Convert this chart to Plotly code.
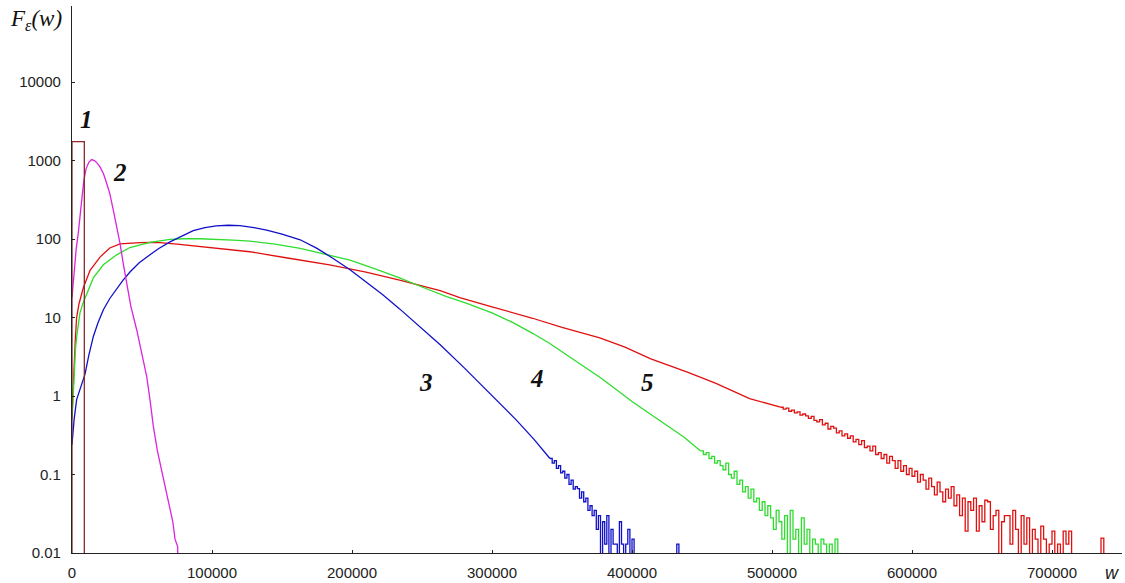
import plotly.graph_objects as go

# ---------------- data ----------------
# curve 1: uniform (rectangle) distribution
rect_w = [0, 8800]
rect_F = 1750

# curve 2 (magenta)
mag_w = [0, 1500, 3000, 4500, 5700, 7000, 8500, 10000, 12000, 14000, 16000, 18000,
         20000, 22500, 24800, 27000, 29500, 32000, 34300, 36500, 39000, 42000, 46200,
         49000, 51000, 53300, 55700, 58100, 61000, 65200, 68000, 70000, 72000, 73600, 75500, 75600]
mag_F = [18, 40, 75, 120, 180, 320, 560, 780, 950, 1030, 1000, 930,
         830, 680, 510, 380, 234, 140, 88, 50, 28, 14, 7,
         4, 2.9, 1.8, 0.9, 0.41, 0.2, 0.093, 0.055, 0.039, 0.025, 0.015, 0.012, 0]

# curve 3 (blue) - smooth body
blue_w = [0, 500, 1500, 3300, 6000, 9300, 12000, 15200, 18500, 22400, 27000, 31900,
          36500, 41400, 48000, 55700, 62000, 70000, 79500, 86600, 95000, 103000, 111700,
          120000, 130000, 139000, 150000, 163000, 175000, 186000, 198600, 210500, 222000,
          234000, 250000, 263000, 280000, 294000, 306000, 317600, 330000, 341400]
blue_F = [0.24, 0.33, 0.5, 0.9, 1.3, 1.9, 3.3, 5.7, 8.5, 12.6, 17.5, 23.5,
          30, 38, 50, 63, 76, 92, 112, 128, 140, 147, 150,
          148, 140, 130, 116, 98, 76, 57.5, 40.7, 28.2, 19.5,
          12.9, 7.2, 4.5, 2.3, 1.29, 0.79, 0.49, 0.28, 0.16]
# curve 3 (blue) - noisy histogram tail
blue_tail_w = [341400, 343000, 344500, 346000, 347500, 349000, 350500, 352000, 353500, 355000,
               356500, 358000, 359500, 361000, 362500, 364000, 365500, 367000, 368500, 370000,
               371500, 373000, 374500, 376000, 377500, 379000, 380500, 382000, 383500, 385000,
               386500, 388000, 389500, 391000, 392500, 394000, 395500, 397000, 398500, 400000,
               401500, 432000, 433500]
blue_tail_F = [0.16, 0.14, 0.15, 0.12, 0.13, 0.105, 0.11, 0.09, 0.1, 0.075,
               0.085, 0.065, 0.07, 0.066, 0.05, 0.06, 0.045, 0.05, 0.035, 0.04,
               0.03, 0.035, 0.02, 0.03, 0, 0.025, 0.013, 0.03, 0, 0.02,
               0.013, 0.013, 0, 0.025, 0.013, 0, 0.013, 0.02, 0, 0.015,
               0, 0.013, 0]

# curve 4 (green) - smooth body
green_w = [0, 700, 1500, 2500, 3500, 5700, 8000, 10500, 15200, 22400, 31900, 41400, 55700,
           70000, 80000, 91400, 103000, 115000, 127000, 145000, 163000, 180000, 198600,
           216000, 234000, 250000, 267600, 282000, 300000, 315000, 329000, 341000, 355000,
           366000, 377000, 389000, 400000, 413000, 425000, 437000, 449000]
green_F = [0.5, 1.0, 2.0, 4.0, 6.0, 11.5, 15.5, 20, 32, 47, 63, 78, 91,
           99, 101, 101, 100, 97, 94, 86, 76, 65, 54,
           42, 32, 24.5, 18.5, 15.2, 11.5, 8.6, 6.3, 4.7, 3.2,
           2.35, 1.74, 1.2, 0.85, 0.59, 0.42, 0.3, 0.2]
# curve 4 (green) - noisy histogram tail
green_tail_w = [449000, 451000, 453000, 455000, 457000, 459000, 461000, 463000, 465000, 467000,
                469000, 471000, 473000, 475000, 477000, 479000, 481000, 483000, 485000, 487000,
                489000, 491000, 493000, 495000, 497000, 499000, 501000, 503000, 505000, 507000,
                509000, 511000, 513000, 515000, 517000, 519000, 521000, 523000, 525000, 527000,
                529000, 531000, 533000, 535000, 537000, 539000, 541000, 543000, 545000, 547000]
green_tail_F = [0.2, 0.18, 0.19, 0.16, 0.17, 0.14, 0.15, 0.13, 0.115, 0.14,
                0.1, 0.09, 0.11, 0.075, 0.085, 0.06, 0.07, 0.05, 0.065, 0.045,
                0.05, 0.035, 0.045, 0.03, 0.04, 0.028, 0.02, 0.035, 0.025, 0.015,
                0.03, 0, 0.035, 0.015, 0.02, 0, 0.028, 0.013, 0.02, 0,
                0.015, 0.013, 0, 0.015, 0.013, 0, 0.013, 0, 0.015, 0]

# curve 5 (red) - smooth body
red_w = [0, 700, 1500, 2300, 3300, 5000, 8100, 12900, 20000, 27000, 34300, 41000, 48600,
         55700, 62900, 75000, 84300, 100000, 127000, 155000, 184000, 210000, 234000, 263000,
         277000, 300000, 329000, 350000, 377000, 395000, 413000, 440000, 460000, 484000, 506000]
red_F = [0.54, 1.2, 2.9, 5, 10, 15, 24, 40, 59, 77, 87, 89, 90,
         91, 90, 86, 83, 77, 69, 57, 47, 38, 30, 22,
         18, 13.7, 9.8, 7.5, 5.5, 4.2, 3.0, 2.0, 1.45, 0.93, 0.72]
# curve 5 (red) - noisy histogram tail
red_tail_w = [506000, 508000, 510000, 512000, 514000, 516000, 518000, 520000, 522000, 524000,
              526000, 528000, 530000, 532000, 534000, 536000, 538000, 540000, 542000, 544000,
              546000, 548000, 550000, 552000, 554000, 556000, 558000, 560000, 562000, 564000,
              566000, 568000, 570000, 572000, 574000, 576000, 578000, 580000, 582000, 584000,
              586000, 588000, 590000, 592000, 594000, 596000, 598000, 600000, 602000, 604000,
              606000, 608000, 610000, 612000, 614000, 616000, 618000, 620000, 622000, 624000,
              626000, 628000, 630000, 632000, 634000, 636000, 638000, 640000, 642000, 644000,
              646000, 648000, 650000, 652000, 654000, 656000, 658000, 660000, 662000, 664000,
              666000, 668000, 670000, 672000, 674000, 676000, 678000, 680000, 682000, 684000,
              686000, 688000, 690000, 692000, 694000, 696000, 698000, 700000, 702000, 704000,
              706000, 708000, 710000, 712000, 714000, 735000, 737000]
red_tail_F = [0.72, 0.68, 0.70, 0.64, 0.66, 0.61, 0.63, 0.57, 0.59, 0.56,
              0.52, 0.55, 0.49, 0.47, 0.5, 0.43, 0.45, 0.38, 0.41, 0.39,
              0.34, 0.36, 0.31, 0.33, 0.29, 0.31, 0.26, 0.28, 0.24, 0.27,
              0.22, 0.23, 0.2, 0.23, 0.18, 0.19, 0.16, 0.18, 0.14, 0.17,
              0.15, 0.12, 0.15, 0.11, 0.13, 0.1, 0.12, 0.095, 0.11, 0.08,
              0.1, 0.085, 0.065, 0.09, 0.07, 0.055, 0.08, 0.06, 0.045, 0.065,
              0.05, 0.07, 0.04, 0.055, 0.03, 0.05, 0.019, 0.045, 0.035, 0.05,
              0.019, 0.04, 0.025, 0.047, 0.045, 0.02, 0.03, 0.035, 0, 0.025,
              0.03, 0.03, 0.013, 0.035, 0.02, 0, 0.03, 0.013, 0.028, 0,
              0.02, 0.015, 0, 0.022, 0.015, 0, 0.013, 0.019, 0, 0.013,
              0, 0.019, 0.013, 0.019, 0, 0.0155, 0]

x_ticks = [0, 100000, 200000, 300000, 400000, 500000, 600000, 700000]
x_labels = ["0", "100000", "200000", "300000", "400000", "500000", "600000", "700000"]
y_ticks = [0.01, 0.1, 1, 10, 100, 1000, 10000]
y_labels = ["0.01", "0.1", "1", "10", "100", "1000", "10000"]
curve_labels = ["1", "2", "3", "4", "5"]

# ---------------- figure ----------------
FLOOR = 1e-4  # empty bins drawn below the visible range


def fix(vals):
    return [v if v > 0 else FLOOR for v in vals]


C_BROWN = "#8B2A2A"
C_MAG = "#DD22DD"
C_BLUE = "#1010C8"
C_GREEN = "#2EDD2E"
C_RED = "#E01010"
LW = 1.3

fig = go.Figure()


def body(xs, ys, color):
    fig.add_trace(go.Scatter(x=xs, y=fix(ys), mode="lines",
                             line=dict(color=color, width=LW, shape="linear")))


def tail(xs, ys, color):
    fig.add_trace(go.Scatter(x=xs, y=fix(ys), mode="lines",
                             line=dict(color=color, width=LW, shape="hv")))


body(red_w, red_F, C_RED)
tail(red_tail_w, red_tail_F, C_RED)
body(green_w, green_F, C_GREEN)
tail(green_tail_w, green_tail_F, C_GREEN)
body(blue_w, blue_F, C_BLUE)
tail(blue_tail_w, blue_tail_F, C_BLUE)
body(mag_w, mag_F, C_MAG)
fig.add_trace(go.Scatter(x=[rect_w[0], rect_w[0], rect_w[1], rect_w[1]],
                         y=[FLOOR, rect_F, rect_F, FLOOR], mode="lines",
                         line=dict(color=C_BROWN, width=LW)))

label_font = dict(family="Liberation Serif", size=25, color="#111111")
label_pos = [(10700, 3.52), (34300, 2.85), (252800, 0.17), (332000, 0.22), (411400, 0.17)]
for txt, (lx, ly) in zip(curve_labels, label_pos):
    fig.add_annotation(x=lx, y=ly, xref="x", yref="y", text="<b><i>" + txt + "</i></b>",
                       showarrow=False, font=label_font, xanchor="center", yanchor="middle")

fig.add_annotation(xref="paper", yref="paper", x=-0.034, y=0.975,
                   xanchor="center", yanchor="middle",
                   text="<i>F<sub>ε</sub>(w)</i>", showarrow=False,
                   font=dict(family="Liberation Serif", size=23, color="#111111"))
fig.add_annotation(xref="paper", yref="paper", x=0.9905, y=-0.037,
                   xanchor="center", yanchor="middle", borderpad=0,
                   text="<i>w</i>", showarrow=False,
                   font=dict(family="Liberation Sans", size=18, color="#222222"))

axis_font = dict(family="Liberation Sans", size=15, color="#222222")
fig.update_layout(
    width=1125, height=583,
    margin=dict(l=72, r=3, t=6, b=30, autoexpand=False),
    paper_bgcolor="white", plot_bgcolor="white",
    showlegend=False,
    xaxis=dict(range=[0, 750000], tickvals=x_ticks, ticktext=x_labels,
               showgrid=False, zeroline=False, showline=True, linecolor="#222222", linewidth=1.3,
               ticks="inside", ticklen=3, tickcolor="#222222", tickfont=axis_font,
               ticklabelstandoff=6),
    yaxis=dict(type="log", range=[-2, 4.97], tickvals=y_ticks, ticktext=y_labels,
               showgrid=False, zeroline=False, showline=True, linecolor="#222222", linewidth=1.3,
               ticks="inside", ticklen=3, tickcolor="#222222", tickfont=axis_font,
               ticklabelstandoff=7),
)

fig.write_html("out.html", config={"displayModeBar": False},
               post_script="document.body.style.margin='0';document.body.style.overflow='hidden';")
